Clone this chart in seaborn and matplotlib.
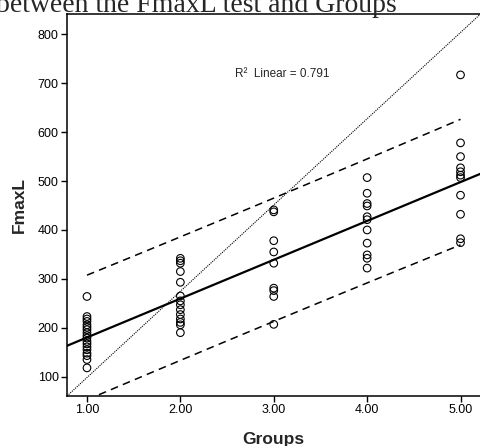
import numpy as np
import pandas as pd
import seaborn as sns
import matplotlib
matplotlib.use("Agg")
import matplotlib.pyplot as plt

# ---- data ----
g1 = [264, 223, 218, 213, 206, 201, 196, 190, 184, 179, 172, 167, 161, 155, 148, 143, 135, 118]
g2 = [342, 337, 332, 315, 293, 265, 255, 247, 237, 227, 218, 211, 206, 190]
g3 = [441, 437, 378, 355, 332, 281, 276, 264, 207]
g4 = [507, 475, 454, 449, 427, 421, 400, 373, 349, 342, 322]
g5 = [717, 578, 550, 527, 519, 512, 507, 471, 432, 382, 374]
groups = [1.0, 2.0, 3.0, 4.0, 5.0]
xticklabels = ["1.00", "2.00", "3.00", "4.00", "5.00"]
yticks = [100, 200, 300, 400, 500, 600, 700, 800]
r2_text = "R\u00b2  Linear = 0.791"
title_text = "between the FmaxL test and Groups"

xs, ys = [], []
for g, vals in zip(groups, [g1, g2, g3, g4, g5]):
    xs += [g] * len(vals)
    ys += vals
df = pd.DataFrame({"Groups": xs, "FmaxL": ys})

sns.set_style("ticks")
plt.rcParams["font.family"] = ["Liberation Sans", "DejaVu Sans"]

fig = plt.figure(figsize=(4.8, 4.46), dpi=100)
ax = fig.add_axes([67 / 480, 50 / 446, 413.5 / 480, 382 / 446])
ax.set_xlim(0.786, 5.214)
ax.set_ylim(60.5, 841.5)

# diagonal reference line across the plot box
ax.plot([0, 1], [0, 1], transform=ax.transAxes, color="black", lw=0.8,
        ls=(0, (1, 1)), zorder=1)

# regression
x = df["Groups"].to_numpy(float)
y = df["FmaxL"].to_numpy(float)
b, a = np.polyfit(x, y, 1)
n = len(x)
resid = y - (a + b * x)
s = np.sqrt(np.sum(resid ** 2) / (n - 2))
t = 1.9990
xm = x.mean()
sxx = np.sum((x - xm) ** 2)
xx = np.linspace(1, 5, 60)
half = t * s * np.sqrt(1 + 1 / n + (xx - xm) ** 2 / sxx)
fit = a + b * xx
ax.plot(xx, fit + half, color="black", lw=1.1, ls=(0, (5, 3.5)), zorder=2)
ax.plot(xx, fit - half, color="black", lw=1.1, ls=(0, (5, 3.5)), zorder=2)

sns.regplot(data=df, x="Groups", y="FmaxL", scatter=False, ci=None,
            truncate=False, ax=ax, line_kws=dict(color="black", lw=1.6))

sns.scatterplot(data=df, x="Groups", y="FmaxL", ax=ax, marker="o", s=30,
                facecolor="none", edgecolor="black", linewidth=0.8, zorder=3)

ax.set_xlim(0.786, 5.214)
ax.set_ylim(60.5, 841.5)
ax.set_xticks(groups)
ax.set_xticklabels(xticklabels)
ax.set_yticks(yticks)
ax.tick_params(axis="both", length=4, width=1, labelsize=9, colors="black",
               direction="out", pad=2)
for sp in ax.spines.values():
    sp.set_linewidth(1.1)
    sp.set_color("black")

ax.set_xlabel("Groups", fontsize=12.5, fontweight="bold", labelpad=11)
ax.set_ylabel("FmaxL", fontsize=12.5, fontweight="bold", labelpad=8)

ax.text(0.407, 0.843, r2_text, transform=ax.transAxes, fontsize=8.5,
        ha="left", va="center")

fig.text(-0.008, (446 - 12) / 446, title_text, fontsize=20,
         family=["Liberation Serif", "DejaVu Serif"], ha="left", va="baseline")

fig.savefig("out.png", dpi=100)
